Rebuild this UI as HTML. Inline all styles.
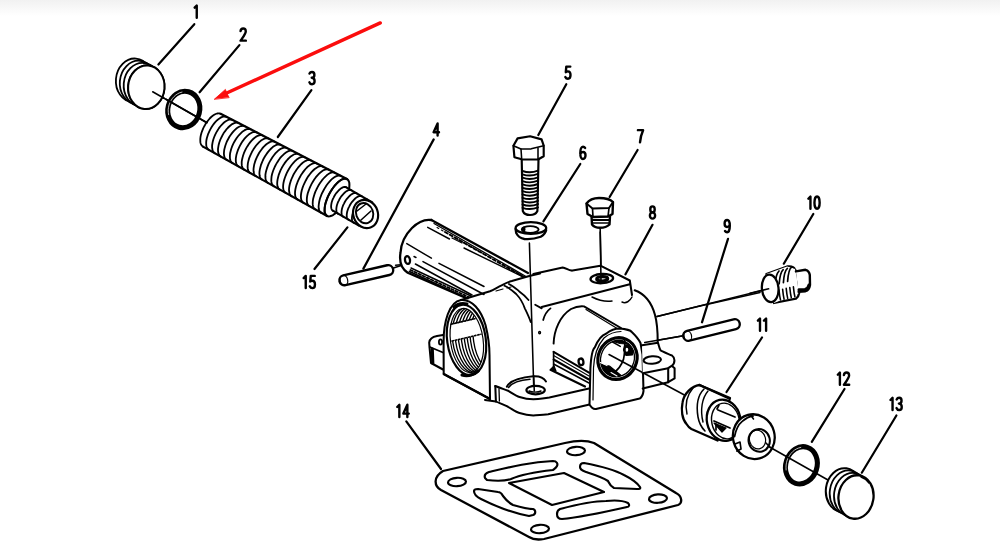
<!DOCTYPE html>
<html><head><meta charset="utf-8"><style>
html,body{margin:0;padding:0;background:#fff;}
body{width:1000px;height:550px;overflow:hidden;position:relative;}
.top{position:absolute;left:0;top:0;width:1000px;height:16px;background:linear-gradient(#f1f1f1,#fff);}
svg{position:absolute;left:0;top:0;}
</style></head><body><div class="top"></div>
<svg width="1000" height="550" viewBox="0 0 1000 550" stroke-linecap="round" stroke-linejoin="round">
<path transform="translate(194.65 5.50)" d="M0,2.2 L2.1,0 L2.1,12.2" fill="none" stroke="#000" stroke-width="2.4" stroke-linecap="round" stroke-linejoin="round"/>
<path transform="translate(240.55 28.45)" d="M0,2.6 C0.2,0.9 1.2,0 2.6,0 C4.2,0 5.2,1.2 5.2,3 C5.2,5.2 3.2,7.6 0,12.2 L5.3,12.2" fill="none" stroke="#000" stroke-width="2.4" stroke-linecap="round" stroke-linejoin="round"/>
<path transform="translate(309.40 72.00)" d="M0.1,1.6 C0.6,0.5 1.5,0 2.6,0 C4.1,0 5,1.2 5,2.9 C5,4.8 3.9,5.8 2.3,5.8 C4,5.9 5.2,7.3 5.2,9.1 C5.2,11 4,12.2 2.6,12.2 C1.4,12.2 0.4,11.5 0,10.3" fill="none" stroke="#000" stroke-width="2.4" stroke-linecap="round" stroke-linejoin="round"/>
<path transform="translate(433.60 123.40)" d="M4,12.2 L4,0 L0,8.8 L5.4,8.8" fill="none" stroke="#000" stroke-width="2.4" stroke-linecap="round" stroke-linejoin="round"/>
<path transform="translate(565.30 66.60)" d="M5,0 L1,0 L0.5,5.6 C1.1,5 1.9,4.8 2.6,4.8 C4.2,4.8 5.2,6.3 5.2,8.5 C5.2,10.8 4.1,12.2 2.6,12.2 C1.4,12.2 0.5,11.5 0,10.4" fill="none" stroke="#000" stroke-width="2.4" stroke-linecap="round" stroke-linejoin="round"/>
<path transform="translate(580.30 146.75)" d="M4.8,1.2 C4.3,0.4 3.5,0 2.7,0 C1,0 0,2.6 0,6.5 C0,10.2 1,12.2 2.6,12.2 C4.2,12.2 5.2,10.8 5.2,8.6 C5.2,6.5 4.2,5.2 2.7,5.2 C1.5,5.2 0.5,6 0,7.3" fill="none" stroke="#000" stroke-width="2.4" stroke-linecap="round" stroke-linejoin="round"/>
<path transform="translate(637.90 130.15)" d="M0,0 L5.2,0 C3.6,3.5 2.5,7.5 2.1,12.2" fill="none" stroke="#000" stroke-width="2.4" stroke-linecap="round" stroke-linejoin="round"/>
<ellipse cx="652.50" cy="209.40" rx="2.2" ry="3.0" fill="none" stroke="#000" stroke-width="2.4"/>
<ellipse cx="652.50" cy="215.40" rx="2.6" ry="3.2" fill="none" stroke="#000" stroke-width="2.4"/>
<path transform="translate(724.60 220.00)" d="M0.4,11 C0.9,11.8 1.7,12.2 2.5,12.2 C4.2,12.2 5.2,9.6 5.2,5.7 C5.2,2 4.2,0 2.6,0 C1,0 0,1.4 0,3.6 C0,5.7 1,7 2.5,7 C3.7,7 4.7,6.2 5.2,4.9" fill="none" stroke="#000" stroke-width="2.4" stroke-linecap="round" stroke-linejoin="round"/>
<path transform="translate(808.35 196.55)" d="M0,2.2 L2.1,0 L2.1,12.2" fill="none" stroke="#000" stroke-width="2.4" stroke-linecap="round" stroke-linejoin="round"/>
<ellipse cx="817.05" cy="202.65" rx="2.6" ry="6.1" fill="none" stroke="#000" stroke-width="2.4"/>
<path transform="translate(757.90 318.50)" d="M0,2.2 L2.1,0 L2.1,12.2" fill="none" stroke="#000" stroke-width="2.4" stroke-linecap="round" stroke-linejoin="round"/>
<path transform="translate(764.00 318.50)" d="M0,2.2 L2.1,0 L2.1,12.2" fill="none" stroke="#000" stroke-width="2.4" stroke-linecap="round" stroke-linejoin="round"/>
<path transform="translate(837.80 372.55)" d="M0,2.2 L2.1,0 L2.1,12.2" fill="none" stroke="#000" stroke-width="2.4" stroke-linecap="round" stroke-linejoin="round"/>
<path transform="translate(843.90 372.55)" d="M0,2.6 C0.2,0.9 1.2,0 2.6,0 C4.2,0 5.2,1.2 5.2,3 C5.2,5.2 3.2,7.6 0,12.2 L5.3,12.2" fill="none" stroke="#000" stroke-width="2.4" stroke-linecap="round" stroke-linejoin="round"/>
<path transform="translate(890.45 397.80)" d="M0,2.2 L2.1,0 L2.1,12.2" fill="none" stroke="#000" stroke-width="2.4" stroke-linecap="round" stroke-linejoin="round"/>
<path transform="translate(896.55 397.80)" d="M0.1,1.6 C0.6,0.5 1.5,0 2.6,0 C4.1,0 5,1.2 5,2.9 C5,4.8 3.9,5.8 2.3,5.8 C4,5.9 5.2,7.3 5.2,9.1 C5.2,11 4,12.2 2.6,12.2 C1.4,12.2 0.4,11.5 0,10.3" fill="none" stroke="#000" stroke-width="2.4" stroke-linecap="round" stroke-linejoin="round"/>
<path transform="translate(397.25 404.80)" d="M0,2.2 L2.1,0 L2.1,12.2" fill="none" stroke="#000" stroke-width="2.4" stroke-linecap="round" stroke-linejoin="round"/>
<path transform="translate(403.35 404.80)" d="M4,12.2 L4,0 L0,8.8 L5.4,8.8" fill="none" stroke="#000" stroke-width="2.4" stroke-linecap="round" stroke-linejoin="round"/>
<path transform="translate(303.65 275.90)" d="M0,2.2 L2.1,0 L2.1,12.2" fill="none" stroke="#000" stroke-width="2.4" stroke-linecap="round" stroke-linejoin="round"/>
<path transform="translate(309.75 275.90)" d="M5,0 L1,0 L0.5,5.6 C1.1,5 1.9,4.8 2.6,4.8 C4.2,4.8 5.2,6.3 5.2,8.5 C5.2,10.8 4.1,12.2 2.6,12.2 C1.4,12.2 0.5,11.5 0,10.4" fill="none" stroke="#000" stroke-width="2.4" stroke-linecap="round" stroke-linejoin="round"/>
<path d="M194.3,24.2 L158.4,64.5" fill="none" stroke="#000" stroke-width="2.22" />
<path d="M239.4,45.1 L199.6,92.2" fill="none" stroke="#000" stroke-width="2.22" />
<path d="M311.4,90.2 L277.8,137.0" fill="none" stroke="#000" stroke-width="2.22" />
<path d="M433.7,139.4 L363.4,268.6" fill="none" stroke="#000" stroke-width="2.22" />
<path d="M347.4,227.4 L314.5,269.0" fill="none" stroke="#000" stroke-width="2.22" />
<path d="M566.3,84.2 L538.3,135.0" fill="none" stroke="#000" stroke-width="2.22" />
<path d="M580.3,164.0 L543.4,221.3" fill="none" stroke="#000" stroke-width="2.22" />
<path d="M637.6,150.0 L609.6,197.0" fill="none" stroke="#000" stroke-width="2.22" />
<path d="M652.5,224.8 L625.5,274.3" fill="none" stroke="#000" stroke-width="2.22" />
<path d="M728.0,238.8 L702.0,322.3" fill="none" stroke="#000" stroke-width="2.22" />
<path d="M813.3,214.0 L783.8,263.7" fill="none" stroke="#000" stroke-width="2.22" />
<path d="M762.0,337.5 L726.5,392.0" fill="none" stroke="#000" stroke-width="2.22" />
<path d="M844.5,389.0 L811.8,441.8" fill="none" stroke="#000" stroke-width="2.22" />
<path d="M896.4,415.5 L861.8,472.7" fill="none" stroke="#000" stroke-width="2.22" />
<path d="M406.3,421.3 L441.0,469.0" fill="none" stroke="#000" stroke-width="2.22" />
<path d="M152.7,91.8 L207.0,122.7" fill="none" stroke="#000" stroke-width="1.56" />
<path d="M657.0,316.5 L768.6,288.8" fill="none" stroke="#000" stroke-width="1.56" />
<path d="M644.7,342.4 L682.0,336.0" fill="none" stroke="#000" stroke-width="1.56" />
<path d="M390.5,269.0 L401.0,265.4" fill="none" stroke="#000" stroke-width="1.56" />
<path d="M380.3,22.9 L224,94.3" stroke="#fb0d0d" stroke-width="3.4" fill="none"/>
<path d="M214.5,99.1 L225.4,89.4 L227,93.5 L229,97.3 Z" fill="#fb0d0d" stroke="#fb0d0d" stroke-width="0.8" stroke-linejoin="miter"/>
<ellipse cx="134.1" cy="80.3" rx="18.2" ry="21.8" transform="rotate(5 134.1 80.3)" fill="#fff" stroke="#000" stroke-width="1.7999999999999998"/>
<ellipse cx="138.0" cy="82.5" rx="18.2" ry="21.8" transform="rotate(5 138.0 82.5)" fill="#fff" stroke="#000" stroke-width="1.7999999999999998"/>
<ellipse cx="141.9" cy="84.7" rx="18.2" ry="21.8" transform="rotate(5 141.9 84.7)" fill="#fff" stroke="#000" stroke-width="1.7999999999999998"/>
<ellipse cx="146.3" cy="87.2" rx="18.2" ry="21.8" transform="rotate(5 146.3 87.2)" fill="#fff" stroke="#000" stroke-width="1.7999999999999998"/>
<ellipse cx="146.3" cy="87.2" rx="18.2" ry="21.8" transform="rotate(5 146.3 87.2)" fill="#fff" stroke="#000" stroke-width="2.04"/>
<path d="M152.7,91.8 L164.0,98.2" fill="none" stroke="#000" stroke-width="1.56" />
<ellipse cx="183.8" cy="109.5" rx="15.9" ry="18.4" transform="rotate(15 183.8 109.5)" fill="none" stroke="#000" stroke-width="5.04"/>
<path d="M168.6,114.7 L168.3,112.3 L168.2,109.8 L168.5,107.3 L169.1,104.9 L170.0,102.6 L171.1,100.4 L172.5,98.3 L174.1,96.5 L175.8,95.0 L177.8,93.7 L179.8,92.7 L182.0,92.1" fill="none" stroke="#fff" stroke-width="0.72" />
<path d="M166.0,99.3 L207.0,122.7" fill="none" stroke="#000" stroke-width="1.56" />
<path d="M220.6,113.8 L346.9,179.0 L327.1,216.0 L203.0,146.6 Z" fill="#fff" stroke="none"/>
<path d="M220.6,113.8 L346.9,179.0" fill="none" stroke="#000" stroke-width="2.16" />
<path d="M203.0,146.6 L327.1,216.0" fill="none" stroke="#000" stroke-width="2.16" />
<path d="M220.6,113.8 L219.6,113.4 L218.4,113.3 L217.1,113.5 L215.7,114.0 L214.2,114.8 L212.7,115.8 L211.2,117.0 L209.7,118.5 L208.3,120.2 L206.8,122.1 L205.5,124.1 L204.3,126.2 L203.2,128.3 L202.3,130.6 L201.5,132.8 L200.9,134.9 L200.5,137.0 L200.3,138.9 L200.3,140.7 L200.4,142.4 L200.8,143.8 L201.4,145.0 L202.1,145.9 L203.0,146.6" fill="none" stroke="#000" stroke-width="1.7999999999999998" />
<path d="M226.6,116.9 L225.6,116.5 L224.4,116.4 L223.1,116.6 L221.7,117.1 L220.2,117.9 L218.7,118.9 L217.2,120.2 L215.7,121.7 L214.2,123.4 L212.8,125.3 L211.5,127.3 L210.3,129.4 L209.2,131.6 L208.2,133.8 L207.5,136.0 L206.8,138.2 L206.4,140.2 L206.2,142.2 L206.2,144.0 L206.3,145.7 L206.7,147.1 L207.3,148.3 L208.0,149.2 L208.9,149.9" fill="none" stroke="#000" stroke-width="1.7999999999999998" />
<path d="M232.6,120.0 L231.6,119.6 L230.4,119.5 L229.1,119.7 L227.7,120.2 L226.2,121.0 L224.7,122.0 L223.2,123.3 L221.7,124.8 L220.2,126.5 L218.8,128.4 L217.5,130.5 L216.2,132.6 L215.1,134.8 L214.2,137.0 L213.4,139.2 L212.8,141.4 L212.4,143.5 L212.1,145.5 L212.1,147.3 L212.3,149.0 L212.6,150.4 L213.2,151.6 L213.9,152.5 L214.8,153.2" fill="none" stroke="#000" stroke-width="1.7999999999999998" />
<path d="M238.7,123.1 L237.6,122.7 L236.4,122.7 L235.1,122.9 L233.7,123.4 L232.2,124.1 L230.7,125.2 L229.2,126.5 L227.7,128.0 L226.2,129.7 L224.8,131.6 L223.4,133.6 L222.2,135.8 L221.1,138.0 L220.1,140.2 L219.3,142.5 L218.7,144.7 L218.3,146.8 L218.0,148.8 L218.0,150.6 L218.2,152.3 L218.5,153.7 L219.1,154.9 L219.8,155.8 L220.7,156.5" fill="none" stroke="#000" stroke-width="1.7999999999999998" />
<path d="M244.7,126.2 L243.6,125.9 L242.4,125.8 L241.1,126.0 L239.7,126.5 L238.2,127.3 L236.7,128.3 L235.2,129.6 L233.7,131.1 L232.2,132.9 L230.8,134.8 L229.4,136.8 L228.2,139.0 L227.0,141.2 L226.1,143.5 L225.3,145.7 L224.7,147.9 L224.2,150.0 L224.0,152.0 L223.9,153.9 L224.1,155.5 L224.4,157.0 L225.0,158.2 L225.7,159.1 L226.6,159.8" fill="none" stroke="#000" stroke-width="1.7999999999999998" />
<path d="M250.7,129.3 L249.6,129.0 L248.4,128.9 L247.1,129.1 L245.7,129.6 L244.3,130.4 L242.7,131.4 L241.2,132.8 L239.7,134.3 L238.2,136.0 L236.7,138.0 L235.4,140.0 L234.1,142.2 L233.0,144.4 L232.0,146.7 L231.2,149.0 L230.6,151.2 L230.1,153.3 L229.9,155.3 L229.9,157.2 L230.0,158.8 L230.4,160.3 L230.9,161.5 L231.6,162.4 L232.5,163.1" fill="none" stroke="#000" stroke-width="1.7999999999999998" />
<path d="M256.7,132.4 L255.6,132.1 L254.5,132.0 L253.1,132.2 L251.7,132.7 L250.3,133.5 L248.7,134.6 L247.2,135.9 L245.7,137.4 L244.1,139.2 L242.7,141.1 L241.3,143.2 L240.1,145.4 L239.0,147.7 L238.0,149.9 L237.2,152.2 L236.5,154.4 L236.1,156.6 L235.8,158.6 L235.8,160.5 L235.9,162.1 L236.3,163.6 L236.8,164.8 L237.5,165.7 L238.4,166.4" fill="none" stroke="#000" stroke-width="1.7999999999999998" />
<path d="M262.7,135.5 L261.7,135.2 L260.5,135.1 L259.2,135.3 L257.7,135.8 L256.3,136.6 L254.7,137.7 L253.2,139.0 L251.6,140.6 L250.1,142.4 L248.7,144.3 L247.3,146.4 L246.0,148.6 L244.9,150.9 L243.9,153.2 L243.1,155.5 L242.5,157.7 L242.0,159.8 L241.7,161.9 L241.7,163.7 L241.8,165.4 L242.2,166.9 L242.7,168.1 L243.4,169.0 L244.3,169.7" fill="none" stroke="#000" stroke-width="1.7999999999999998" />
<path d="M268.7,138.6 L267.7,138.3 L266.5,138.2 L265.2,138.4 L263.8,138.9 L262.3,139.8 L260.7,140.8 L259.2,142.2 L257.6,143.8 L256.1,145.5 L254.7,147.5 L253.3,149.6 L252.0,151.8 L250.9,154.1 L249.9,156.4 L249.0,158.7 L248.4,160.9 L247.9,163.1 L247.7,165.1 L247.6,167.0 L247.8,168.7 L248.1,170.2 L248.6,171.4 L249.4,172.4 L250.3,173.0" fill="none" stroke="#000" stroke-width="1.7999999999999998" />
<path d="M274.8,141.8 L273.7,141.4 L272.5,141.3 L271.2,141.5 L269.8,142.1 L268.3,142.9 L266.7,144.0 L265.2,145.3 L263.6,146.9 L262.1,148.7 L260.6,150.7 L259.2,152.8 L258.0,155.0 L256.8,157.3 L255.8,159.6 L255.0,161.9 L254.3,164.2 L253.9,166.4 L253.6,168.4 L253.5,170.3 L253.7,172.0 L254.0,173.5 L254.5,174.7 L255.3,175.7 L256.2,176.3" fill="none" stroke="#000" stroke-width="1.7999999999999998" />
<path d="M280.8,144.9 L279.7,144.5 L278.5,144.4 L277.2,144.6 L275.8,145.2 L274.3,146.0 L272.7,147.1 L271.2,148.5 L269.6,150.1 L268.1,151.9 L266.6,153.9 L265.2,156.0 L263.9,158.2 L262.8,160.5 L261.8,162.9 L260.9,165.2 L260.3,167.5 L259.8,169.6 L259.5,171.7 L259.4,173.6 L259.6,175.3 L259.9,176.8 L260.5,178.0 L261.2,179.0 L262.1,179.6" fill="none" stroke="#000" stroke-width="1.7999999999999998" />
<path d="M286.8,148.0 L285.7,147.6 L284.5,147.5 L283.2,147.8 L281.8,148.3 L280.3,149.1 L278.7,150.2 L277.2,151.6 L275.6,153.2 L274.1,155.0 L272.6,157.0 L271.2,159.2 L269.9,161.4 L268.7,163.7 L267.7,166.1 L266.9,168.4 L266.2,170.7 L265.7,172.9 L265.4,175.0 L265.4,176.9 L265.5,178.6 L265.8,180.1 L266.4,181.3 L267.1,182.3 L268.0,182.9" fill="none" stroke="#000" stroke-width="1.7999999999999998" />
<path d="M292.8,151.1 L291.7,150.7 L290.5,150.6 L289.2,150.9 L287.8,151.4 L286.3,152.3 L284.7,153.4 L283.2,154.8 L281.6,156.4 L280.0,158.2 L278.6,160.2 L277.2,162.4 L275.9,164.6 L274.7,167.0 L273.7,169.3 L272.8,171.7 L272.1,174.0 L271.6,176.2 L271.4,178.3 L271.3,180.2 L271.4,181.9 L271.7,183.4 L272.3,184.6 L273.0,185.6 L273.9,186.2" fill="none" stroke="#000" stroke-width="1.7999999999999998" />
<path d="M298.8,154.2 L297.8,153.8 L296.6,153.7 L295.2,154.0 L293.8,154.5 L292.3,155.4 L290.7,156.5 L289.2,157.9 L287.6,159.5 L286.0,161.4 L284.5,163.4 L283.1,165.6 L281.8,167.8 L280.6,170.2 L279.6,172.6 L278.7,174.9 L278.1,177.2 L277.6,179.4 L277.3,181.5 L277.2,183.4 L277.3,185.2 L277.7,186.7 L278.2,187.9 L278.9,188.9 L279.8,189.6" fill="none" stroke="#000" stroke-width="1.7999999999999998" />
<path d="M304.8,157.3 L303.8,156.9 L302.6,156.8 L301.2,157.1 L299.8,157.6 L298.3,158.5 L296.7,159.6 L295.1,161.0 L293.6,162.7 L292.0,164.5 L290.5,166.6 L289.1,168.8 L287.8,171.0 L286.6,173.4 L285.6,175.8 L284.7,178.2 L284.0,180.5 L283.5,182.7 L283.2,184.8 L283.1,186.7 L283.2,188.5 L283.6,190.0 L284.1,191.2 L284.8,192.2 L285.7,192.9" fill="none" stroke="#000" stroke-width="1.7999999999999998" />
<path d="M310.8,160.4 L309.8,160.0 L308.6,159.9 L307.2,160.2 L305.8,160.8 L304.3,161.6 L302.7,162.8 L301.1,164.2 L299.6,165.8 L298.0,167.7 L296.5,169.8 L295.1,171.9 L293.7,174.2 L292.6,176.6 L291.5,179.0 L290.6,181.4 L289.9,183.7 L289.4,186.0 L289.1,188.1 L289.0,190.0 L289.2,191.8 L289.5,193.3 L290.0,194.5 L290.7,195.5 L291.6,196.2" fill="none" stroke="#000" stroke-width="1.7999999999999998" />
<path d="M316.9,163.5 L315.8,163.1 L314.6,163.1 L313.3,163.3 L311.8,163.9 L310.3,164.8 L308.7,165.9 L307.1,167.3 L305.5,169.0 L304.0,170.9 L302.5,172.9 L301.0,175.1 L299.7,177.5 L298.5,179.8 L297.5,182.2 L296.6,184.6 L295.9,187.0 L295.4,189.2 L295.1,191.4 L295.0,193.3 L295.1,195.0 L295.4,196.6 L295.9,197.8 L296.6,198.8 L297.5,199.5" fill="none" stroke="#000" stroke-width="1.7999999999999998" />
<path d="M322.9,166.6 L321.8,166.2 L320.6,166.2 L319.3,166.4 L317.8,167.0 L316.3,167.9 L314.7,169.0 L313.1,170.5 L311.5,172.1 L310.0,174.0 L308.4,176.1 L307.0,178.3 L305.7,180.7 L304.5,183.1 L303.4,185.5 L302.5,187.9 L301.8,190.2 L301.3,192.5 L301.0,194.6 L300.9,196.6 L301.0,198.3 L301.3,199.9 L301.8,201.1 L302.5,202.1 L303.4,202.8" fill="none" stroke="#000" stroke-width="1.7999999999999998" />
<path d="M328.9,169.7 L327.8,169.3 L326.6,169.3 L325.3,169.5 L323.8,170.1 L322.3,171.0 L320.7,172.2 L319.1,173.6 L317.5,175.3 L315.9,177.2 L314.4,179.3 L313.0,181.5 L311.6,183.9 L310.4,186.3 L309.4,188.7 L308.5,191.1 L307.7,193.5 L307.2,195.8 L306.9,197.9 L306.8,199.9 L306.9,201.6 L307.2,203.2 L307.7,204.4 L308.4,205.4 L309.3,206.1" fill="none" stroke="#000" stroke-width="1.7999999999999998" />
<path d="M334.9,172.8 L333.8,172.4 L332.6,172.4 L331.3,172.6 L329.8,173.2 L328.3,174.1 L326.7,175.3 L325.1,176.8 L323.5,178.5 L321.9,180.4 L320.4,182.5 L318.9,184.7 L317.6,187.1 L316.4,189.5 L315.3,191.9 L314.4,194.4 L313.7,196.8 L313.1,199.0 L312.8,201.2 L312.7,203.2 L312.8,204.9 L313.1,206.5 L313.6,207.7 L314.3,208.7 L315.2,209.4" fill="none" stroke="#000" stroke-width="1.7999999999999998" />
<path d="M340.9,175.9 L339.9,175.5 L338.7,175.5 L337.3,175.8 L335.9,176.4 L334.3,177.3 L332.7,178.4 L331.1,179.9 L329.5,181.6 L327.9,183.5 L326.4,185.6 L324.9,187.9 L323.6,190.3 L322.3,192.7 L321.2,195.2 L320.3,197.6 L319.6,200.0 L319.1,202.3 L318.8,204.5 L318.6,206.4 L318.7,208.2 L319.0,209.8 L319.5,211.0 L320.3,212.0 L321.1,212.7" fill="none" stroke="#000" stroke-width="1.7999999999999998" />
<path d="M346.9,179.0 L345.9,178.6 L344.7,178.6 L343.3,178.9 L341.9,179.5 L340.3,180.4 L338.7,181.6 L337.1,183.0 L335.5,184.8 L333.9,186.7 L332.3,188.8 L330.9,191.1 L329.5,193.5 L328.3,195.9 L327.2,198.4 L326.3,200.9 L325.5,203.3 L325.0,205.6 L324.7,207.7 L324.6,209.7 L324.6,211.5 L324.9,213.0 L325.5,214.3 L326.2,215.3 L327.1,216.0" fill="none" stroke="#000" stroke-width="1.7999999999999998" />
<path d="M327.1,216.0 L328.4,216.4 L329.9,216.3 L331.5,215.8 L333.4,214.8 L335.3,213.4 L337.2,211.6 L339.2,209.5 L341.0,207.0 L342.8,204.4 L344.5,201.5 L346.0,198.6 L347.2,195.6 L348.2,192.7 L348.9,189.9 L349.3,187.3 L349.4,184.9 L349.3,182.8 L348.8,181.2 L348.0,179.9 L346.9,179.0 L345.6,178.6 L344.1,178.7 L342.5,179.2 L340.6,180.2 L338.7,181.6 L336.8,183.4 L334.8,185.5 L333.0,188.0 L331.2,190.6 L329.5,193.5 L328.0,196.4 L326.8,199.4 L325.8,202.3 L325.1,205.1 L324.7,207.7 L324.6,210.1 L324.7,212.2 L325.2,213.8 L326.0,215.1 L327.1,216.0" fill="none" stroke="#000" stroke-width="2.04" />
<path d="M346.3,187.3 L372.3,202.3 L358.9,225.7 L332.9,210.7 Z" fill="#fff" stroke="none"/>
<path d="M346.3,187.3 L372.3,202.3" fill="none" stroke="#000" stroke-width="2.04" />
<path d="M332.9,210.7 L358.9,225.7" fill="none" stroke="#000" stroke-width="2.04" />
<path d="M346.3,187.3 L345.6,187.0 L344.8,186.9 L343.8,187.0 L342.8,187.4 L341.8,187.9 L340.7,188.6 L339.6,189.5 L338.5,190.6 L337.4,191.8 L336.3,193.1 L335.3,194.5 L334.4,196.0 L333.6,197.6 L332.8,199.1 L332.2,200.7 L331.7,202.2 L331.4,203.7 L331.2,205.1 L331.1,206.5 L331.2,207.6 L331.4,208.7 L331.7,209.5 L332.2,210.2 L332.9,210.7" fill="none" stroke="#000" stroke-width="1.7999999999999998" />
<path d="M351.5,190.3 L350.8,190.0 L350.0,189.9 L349.0,190.0 L348.0,190.4 L347.0,190.9 L345.9,191.6 L344.8,192.5 L343.7,193.6 L342.6,194.8 L341.5,196.1 L340.5,197.5 L339.6,199.0 L338.8,200.6 L338.0,202.1 L337.4,203.7 L336.9,205.2 L336.6,206.7 L336.4,208.1 L336.3,209.5 L336.4,210.6 L336.6,211.7 L336.9,212.5 L337.4,213.2 L338.1,213.7" fill="none" stroke="#000" stroke-width="1.7999999999999998" />
<path d="M356.7,193.3 L356.0,193.0 L355.2,192.9 L354.2,193.0 L353.2,193.4 L352.2,193.9 L351.1,194.6 L350.0,195.5 L348.9,196.6 L347.8,197.8 L346.7,199.1 L345.7,200.5 L344.8,202.0 L344.0,203.6 L343.2,205.1 L342.6,206.7 L342.1,208.2 L341.8,209.7 L341.6,211.1 L341.5,212.5 L341.6,213.6 L341.8,214.7 L342.1,215.5 L342.6,216.2 L343.3,216.7" fill="none" stroke="#000" stroke-width="1.7999999999999998" />
<path d="M361.9,196.3 L361.2,196.0 L360.4,195.9 L359.4,196.0 L358.4,196.4 L357.4,196.9 L356.3,197.6 L355.2,198.5 L354.1,199.6 L353.0,200.8 L351.9,202.1 L350.9,203.5 L350.0,205.0 L349.2,206.6 L348.4,208.1 L347.8,209.7 L347.3,211.2 L347.0,212.7 L346.8,214.1 L346.7,215.5 L346.8,216.6 L347.0,217.7 L347.3,218.5 L347.8,219.2 L348.5,219.7" fill="none" stroke="#000" stroke-width="1.7999999999999998" />
<path d="M367.1,199.3 L366.4,199.0 L365.6,198.9 L364.6,199.0 L363.6,199.4 L362.6,199.9 L361.5,200.6 L360.4,201.5 L359.3,202.6 L358.2,203.8 L357.1,205.1 L356.1,206.5 L355.2,208.0 L354.4,209.6 L353.6,211.1 L353.0,212.7 L352.5,214.2 L352.2,215.7 L352.0,217.1 L351.9,218.5 L352.0,219.6 L352.2,220.7 L352.5,221.5 L353.0,222.2 L353.7,222.7" fill="none" stroke="#000" stroke-width="1.7999999999999998" />
<ellipse cx="365.6" cy="214.0" rx="12.3" ry="14.3" transform="rotate(-20 365.6 214.0)" fill="#fff" stroke="#000" stroke-width="2.16"/>
<ellipse cx="364.6" cy="213.2" rx="8.5" ry="10.3" transform="rotate(-20 364.6 213.2)" fill="none" stroke="#000" stroke-width="1.92"/>
<path d="M357.0,211.0 L366.0,204.0" fill="none" stroke="#000" stroke-width="1.56" />
<path d="M361.0,220.0 L371.0,211.0" fill="none" stroke="#000" stroke-width="1.56" />
<g transform="rotate(-13 366.3 275.2)"><rect x="338.8" y="270.2" width="55" height="10" rx="5.0" ry="5.0" fill="#fff" stroke="#000" stroke-width="2.4"/><ellipse cx="343.3" cy="275.2" rx="3.8" ry="5.0" fill="none" stroke="#000" stroke-width="1.2"/></g>
<g transform="rotate(-14 711.5 330.0)"><rect x="682.5" y="325.0" width="58" height="10" rx="5.0" ry="5.0" fill="#fff" stroke="#000" stroke-width="2.4"/><ellipse cx="687.0" cy="330.0" rx="3.8" ry="5.0" fill="none" stroke="#000" stroke-width="1.2"/></g>
<path d="M441.3,336.5 L429,339.8 L430.6,362.7 L442,366 L443.7,374 L490.4,402 L495.3,402 L518.2,410.2 L534.6,413.5 L560,408.6 L589.5,404.6 L593.8,406.4 L638.7,396 L642.2,389 L668.2,382.2 L674.6,378.4 L674.6,360.6 L672,355.5 L660.6,350.4 L657.7,342 L657.7,325.5 L654.4,310.7 L644.6,294.4 L634.7,290.3 L629.8,280.5 L600.4,265.7 L572.5,270.6 L562.7,267.4 L545,271 L528,273 L431,220 C415,225 403,238 400.5,252.7 C399,262 402,269 407.7,272.7 L441.8,300 Z" fill="#fff" stroke="none" stroke-width="0.0" />
<path d="M431.4,220 C425,219 418,222 412,228 C405,235 401,244 400.5,252.7 C399,262 402,269 407.7,272.7 L466,298" fill="none" stroke="#000" stroke-width="2.28" />
<path d="M431.4,220 L528,273" fill="none" stroke="#000" stroke-width="2.28" />
<path d="M434,223.5 L526,276.5" fill="none" stroke="#000" stroke-width="1.32" />
<path d="M445,232 L524,277" fill="none" stroke="#000" stroke-width="1.92" stroke-dasharray="3 2.5"/>
<path d="M437,227.5 L525,277" fill="none" stroke="#000" stroke-width="1.08" stroke-dasharray="2 3"/>
<path d="M427.7,227.3 L449.5,239.0" fill="none" stroke="#000" stroke-width="1.44" />
<path d="M406.8,243.6 L431.4,258.2" fill="none" stroke="#000" stroke-width="1.44" />
<path d="M464.0,248.0 L522.0,276.4" fill="none" stroke="#000" stroke-width="1.44" />
<path d="M439.0,263.4 L484.0,286.5" fill="none" stroke="#000" stroke-width="1.56" />
<path d="M452.0,238.0 L462.0,243.0" fill="none" stroke="#000" stroke-width="1.2" />
<path d="M414.0,256.5 L416.0,257.5" fill="none" stroke="#000" stroke-width="1.44" />
<path d="M423.0,261.6 L484.0,294.5" fill="none" stroke="#000" stroke-width="1.56" />
<path d="M415.4,264.0 L472.0,295.0" fill="none" stroke="#000" stroke-width="1.56" />
<path d="M409.5,271.5 L467.7,298.5" fill="none" stroke="#000" stroke-width="1.92" />
<path d="M411.0,268.0 L471.0,296.0" fill="none" stroke="#000" stroke-width="1.44" />
<path d="M410.5,270 L469,297.2" fill="none" stroke="#000" stroke-width="1.7999999999999998" stroke-dasharray="2.5 2"/>
<ellipse cx="407.5" cy="260" rx="2.5" ry="4" transform="rotate(-10 407.5 260)" fill="none" stroke="#000" stroke-width="2.28"/>
<path d="M400.5,264.8 L395.6,265.2" fill="none" stroke="#000" stroke-width="1.56" />
<path d="M533.3,274 L562.7,267.4 C566,268 569,271 572.5,270.6 L600.4,265.7 L629.8,280.5 L630.6,290.3 L535,305.5 Z" fill="#fff" stroke="none" stroke-width="0.0" />
<path d="M533.3,274 L562.7,267.4 C566,268 569,271 572.5,270.6 L600.4,265.7 L629.8,280.5 L632,295" fill="none" stroke="#000" stroke-width="2.04" />
<path d="M629.8,284.3 L541.7,306.9" fill="none" stroke="#000" stroke-width="2.04" />
<ellipse cx="601.8" cy="278.6" rx="11.3" ry="4.6" transform="rotate(-3 601.8 278.6)" fill="#fff" stroke="#000" stroke-width="2.28"/>
<ellipse cx="602.2" cy="278.8" rx="5.5" ry="2.2" transform="rotate(-3 602.2 278.8)" fill="none" stroke="#000" stroke-width="3.12"/>
<path d="M600.2,229.0 L601.0,281.0" fill="none" stroke="#000" stroke-width="1.56" />
<path d="M535.2,304.7 L541.7,308.4" fill="none" stroke="#000" stroke-width="1.7999999999999998" />
<path d="M550.5,308.4 C547,311 544.5,315 543.2,320" fill="none" stroke="#000" stroke-width="1.7999999999999998" />
<path d="M592,297 C598,300 606,302 612,301" fill="none" stroke="#000" stroke-width="1.44" />
<path d="M622,302 C626,304 630,301 632,297" fill="none" stroke="#000" stroke-width="1.44" />
<ellipse cx="539.6" cy="332.6" rx="0.9" ry="1.2" transform="rotate(0 539.6 332.6)" fill="none" stroke="#000" stroke-width="1.44"/>
<path d="M634.7,290.3 C645,294 652,304 655,315 C657,322 657.7,330 657.7,342" fill="none" stroke="#000" stroke-width="2.04" />
<path d="M461,300 L490,291.2 C494,289.5 498,287 501.6,285.4 C505,283.5 508,282 511.8,281 L529.3,275.9 L540,273.6" fill="none" stroke="#000" stroke-width="2.04" />
<path d="M496,291 L503,289 M507,288 L511,287" fill="none" stroke="#000" stroke-width="1.2" />
<path d="M508.9,283.9 C512,286 516,288.5 519,291.2 C523,294 526,297 528.5,300" fill="none" stroke="#000" stroke-width="1.7999999999999998" />
<path d="M504.5,285.8 C509,288 513,291 516.2,294 C520,298 523,303 524.9,308.6 C527,313 529,317 530.7,322" fill="none" stroke="#000" stroke-width="1.7999999999999998" />
<path d="M529.4,243.0 L533.7,386.0" fill="none" stroke="#000" stroke-width="1.56" />
<path d="M553.6,343.6 C554,330 560,316 571,309 C576,306.5 580,306 584,306.4 L621,328" fill="none" stroke="#000" stroke-width="1.92" />
<path d="M586,309.5 L618,329" fill="none" stroke="#000" stroke-width="1.2" />
<path d="M553.6,351.8 L589,372.7 L589,388 L551,370 Z" fill="#fff" stroke="none" stroke-width="0.0" />
<path d="M553.6,351.8 L589.0,372.7" fill="none" stroke="#000" stroke-width="2.04" />
<path d="M553.6,355.5 L589.0,376.0" fill="none" stroke="#000" stroke-width="1.08" />
<path d="M553.6,359.5 L589.0,379.5" fill="none" stroke="#000" stroke-width="2.04" />
<path d="M553.6,364.0 L589.0,383.0" fill="none" stroke="#000" stroke-width="1.44" />
<path d="M551.0,370.0 L585.0,386.5" fill="none" stroke="#000" stroke-width="2.16" />
<path d="M553.6,351.8 L553.6,369.0" fill="none" stroke="#000" stroke-width="1.68" />
<path d="M550,370 L554,366 L556,371 Z" fill="#000" stroke="#000" stroke-width="1.2" />
<ellipse cx="581" cy="361.8" rx="2.4" ry="3.3" transform="rotate(-10 581 361.8)" fill="none" stroke="#000" stroke-width="2.28"/>
<path d="M506.8,386.7 C510,381 520,377.5 533.3,376.3 C539,376 544,378 546,381.5" fill="none" stroke="#000" stroke-width="1.92" />
<path d="M508.5,387.5 C512,383 520,380 530,379.3" fill="none" stroke="#000" stroke-width="1.56" />
<path d="M495.3,386 C500,388 505,389.5 508,390.7 C512,393 516,396 519.5,397 C524,398.5 529,399.3 533.3,399.3 C540,399 545,398.5 549.4,397.6 L589,388.5" fill="none" stroke="#000" stroke-width="2.04" />
<path d="M495.3,386 L495.9,401.5" fill="none" stroke="#000" stroke-width="2.04" />
<path d="M499,389 L499.4,401" fill="none" stroke="#000" stroke-width="1.32" />
<ellipse cx="535.6" cy="390.1" rx="9.2" ry="4.2" transform="rotate(0 535.6 390.1)" fill="#fff" stroke="#000" stroke-width="2.16"/>
<path d="M529,391 C532,392.5 538,392.5 541,391" fill="none" stroke="#000" stroke-width="1.44" />
<path d="M533.7,376.0 L534.3,391.0" fill="none" stroke="#000" stroke-width="1.56" />
<path d="M485,400 L496,401.6 C500,403 504,405 508,406.8 C512,409 516,412 519.5,413 C524,414.5 529,415.4 533.3,415.4 C540,415 544,414.8 548.2,414.3 L589.5,404.6" fill="none" stroke="#000" stroke-width="2.04" />
<path d="M443,335 L437,336 C432,337 429.5,339.5 429.2,342.5 L429.5,347 L431,363 L443,369.5" fill="#fff" stroke="#000" stroke-width="2.04" />
<path d="M429.8,347 L443,352.5" fill="none" stroke="#000" stroke-width="1.7999999999999998" />
<path d="M432.3,349 L432.8,363" fill="none" stroke="#000" stroke-width="3.12" />
<ellipse cx="440.5" cy="342" rx="1.6" ry="2.6" transform="rotate(0 440.5 342)" fill="none" stroke="#000" stroke-width="1.7999999999999998"/>
<path d="M443.7,374 L443.6,342 C443.5,322 449,302 461,300 C472,299 481,310 485.5,325 C488,335 489.5,345 489.5,355 L490,399 Z" fill="#fff" stroke="#000" stroke-width="2.04" />
<path d="M490,399 L443.7,374" fill="none" stroke="#000" stroke-width="2.04" />
<ellipse cx="466.5" cy="340" rx="19.3" ry="35.5" transform="rotate(-8 466.5 340)" fill="#fff" stroke="#000" stroke-width="2.16"/>
<clipPath id="boreL"><ellipse cx="466.8" cy="340.5" rx="16.5" ry="32.5" transform="rotate(-8 466.8 340.5)"/></clipPath>
<clipPath id="bandU"><path d="M440,290 L495,290 L495,314.8 L440,327.6 Z"/></clipPath>
<clipPath id="bandD"><path d="M440,344 L495,331.3 L495,385 L440,385 Z"/></clipPath>
<g clip-path="url(#boreL)"><g clip-path="url(#bandU)">
<ellipse cx="470.5" cy="341" rx="18" ry="34" transform="rotate(-8 470.5 341)" fill="none" stroke="#000" stroke-width="1.38"/>
<ellipse cx="473.5" cy="341" rx="18" ry="34" transform="rotate(-8 473.5 341)" fill="none" stroke="#000" stroke-width="1.38"/>
<ellipse cx="476.5" cy="341" rx="18" ry="34" transform="rotate(-8 476.5 341)" fill="none" stroke="#000" stroke-width="1.38"/>
<ellipse cx="479.5" cy="341" rx="18" ry="34" transform="rotate(-8 479.5 341)" fill="none" stroke="#000" stroke-width="1.38"/>
<ellipse cx="482.5" cy="341" rx="18" ry="34" transform="rotate(-8 482.5 341)" fill="none" stroke="#000" stroke-width="1.38"/>
<ellipse cx="485.5" cy="341" rx="18" ry="34" transform="rotate(-8 485.5 341)" fill="none" stroke="#000" stroke-width="1.38"/>
<ellipse cx="488.5" cy="341" rx="18" ry="34" transform="rotate(-8 488.5 341)" fill="none" stroke="#000" stroke-width="1.38"/>
</g><g clip-path="url(#bandD)">
<ellipse cx="470.5" cy="339" rx="18" ry="34" transform="rotate(-8 470.5 339)" fill="none" stroke="#000" stroke-width="1.38"/>
<ellipse cx="473.5" cy="339" rx="18" ry="34" transform="rotate(-8 473.5 339)" fill="none" stroke="#000" stroke-width="1.38"/>
<ellipse cx="476.5" cy="339" rx="18" ry="34" transform="rotate(-8 476.5 339)" fill="none" stroke="#000" stroke-width="1.38"/>
<ellipse cx="479.5" cy="339" rx="18" ry="34" transform="rotate(-8 479.5 339)" fill="none" stroke="#000" stroke-width="1.38"/>
<ellipse cx="482.5" cy="339" rx="18" ry="34" transform="rotate(-8 482.5 339)" fill="none" stroke="#000" stroke-width="1.38"/>
<ellipse cx="485.5" cy="339" rx="18" ry="34" transform="rotate(-8 485.5 339)" fill="none" stroke="#000" stroke-width="1.38"/>
<ellipse cx="488.5" cy="339" rx="18" ry="34" transform="rotate(-8 488.5 339)" fill="none" stroke="#000" stroke-width="1.38"/>
<ellipse cx="491.5" cy="339" rx="18" ry="34" transform="rotate(-8 491.5 339)" fill="none" stroke="#000" stroke-width="1.38"/>
</g></g>
<ellipse cx="466.8" cy="340.5" rx="16.3" ry="32.3" transform="rotate(-8 466.8 340.5)" fill="none" stroke="#000" stroke-width="1.2"/>
<path d="M451,324.2 L476,318.4" fill="none" stroke="#000" stroke-width="1.56" stroke-dasharray="1.5 1.8"/>
<path d="M452,341 L481,334.2" fill="none" stroke="#000" stroke-width="1.56" stroke-dasharray="1.5 1.8"/>
<path d="M454,307 C457,304 462,303 467,304" fill="none" stroke="#000" stroke-width="2.88" />
<path d="M462,375 C467,376.5 473,375 478,371" fill="none" stroke="#000" stroke-width="3.12" />
<path d="M589.5,404.6 L590.4,368.4 C591,358 592,350 594.7,347.6 C598,340 602,335 606,333.8 C611,330 615,328.6 619.7,328.6 C626,329 631,331 631.8,332 C636,336 639,340 640.5,343 L642.5,354.5 L643.5,391 C643,395 641.5,397.5 639.7,398.6 L596,409 C593.5,409.5 591.5,408 589.5,404.6 Z" fill="#fff" stroke="#000" stroke-width="2.04" />
<path d="M593,400 L593.5,368 C594,356 597,346 604,338 C610,333 616,331.5 621,331.5" fill="none" stroke="#000" stroke-width="1.2" />
<ellipse cx="617.5" cy="358.6" rx="19.3" ry="21.2" transform="rotate(25 617.5 358.6)" fill="#fff" stroke="#000" stroke-width="3.12"/>
<ellipse cx="617.5" cy="358.6" rx="16.6" ry="18.6" transform="rotate(25 617.5 358.6)" fill="none" stroke="#000" stroke-width="1.32"/>
<clipPath id="boreR"><ellipse cx="617.5" cy="358.6" rx="16.6" ry="18.6" transform="rotate(25 617.5 358.6)"/></clipPath>
<g clip-path="url(#boreR)">
<path d="M605,338 L612.6,337.6 L630,339.8 L629,344.2 L620,343.5 L614.8,342 L608,341 Z" fill="#000" stroke="#000" stroke-width="1.2" />
<path d="M624.6,345.3 L631,344 L634,350 L632.3,355 L626,355.5 L623.5,350 Z" fill="#000" stroke="#000" stroke-width="1.2" />
<path d="M596,360 L598.5,363.8 L609.4,366 L621.4,375.8 L614.8,381 L603.9,380 L596,372 Z" fill="#000" stroke="#000" stroke-width="1.2" />
</g>
<ellipse cx="626.8" cy="349.8" rx="2.3" ry="2.8" transform="rotate(0 626.8 349.8)" fill="#fff" stroke="#000" stroke-width="1.68"/>
<path d="M624.6,338.7 C625,345 625,352 623.5,359.4 C621.5,365 618,370 613.7,372.5" fill="none" stroke="#000" stroke-width="1.68" />
<path d="M612.6,342.0 L620.3,346.4" fill="none" stroke="#000" stroke-width="1.44" />
<path d="M600.5,362.5 L607.0,365.6" fill="none" stroke="#fff" stroke-width="1.08" />
<path d="M611.0,372.5 L617.0,376.0" fill="none" stroke="#fff" stroke-width="1.08" />
<path d="M609.0,354.5 L690.0,398.0" fill="none" stroke="#000" stroke-width="1.56" />
<path d="M642,345.3 L658,342.7 C659,346 659.5,349 660.6,350.4 C664,352 668,354 672,355.5 C675,357.5 675.5,363 672,365.7 L668.2,368.2 L642.7,373.3" fill="#fff" stroke="#000" stroke-width="2.04" />
<path d="M668.2,368.2 L668.2,382.2 L642.7,388.6" fill="none" stroke="#000" stroke-width="2.04" />
<path d="M672,366 L674.6,368.2 L674.6,378.4 L668.2,382.2" fill="none" stroke="#000" stroke-width="2.04" />
<ellipse cx="652.3" cy="360" rx="8.7" ry="3.8" transform="rotate(-4 652.3 360)" fill="#fff" stroke="#000" stroke-width="2.04"/>
<path d="M644.7,342.4 L682.0,336.0" fill="none" stroke="#000" stroke-width="1.56" />
<path d="M657.0,316.5 L700.0,306.0" fill="none" stroke="#000" stroke-width="1.56" />
<path d="M521.7,159.3 L522.8,211 C524,214 527,215 530,215 C533,215 536,214 537.4,211 L538.5,159.3" fill="#fff" stroke="#000" stroke-width="2.16" />
<path d="M522.5,171.0 C527,172.6 533,172.6 538,170.6" fill="none" stroke="#000" stroke-width="1.92" />
<path d="M522.5,174.3 C527,175.9 533,175.9 538,173.9" fill="none" stroke="#000" stroke-width="1.92" />
<path d="M522.5,177.7 C527,179.3 533,179.3 538,177.3" fill="none" stroke="#000" stroke-width="1.92" />
<path d="M522.5,181.1 C527,182.7 533,182.7 538,180.7" fill="none" stroke="#000" stroke-width="1.92" />
<path d="M522.5,184.4 C527,186.0 533,186.0 538,184.0" fill="none" stroke="#000" stroke-width="1.92" />
<path d="M522.5,187.8 C527,189.3 533,189.3 538,187.3" fill="none" stroke="#000" stroke-width="1.92" />
<path d="M522.5,191.1 C527,192.7 533,192.7 538,190.7" fill="none" stroke="#000" stroke-width="1.92" />
<path d="M522.5,194.4 C527,196.0 533,196.0 538,194.0" fill="none" stroke="#000" stroke-width="1.92" />
<path d="M522.5,197.8 C527,199.4 533,199.4 538,197.4" fill="none" stroke="#000" stroke-width="1.92" />
<path d="M522.5,201.2 C527,202.8 533,202.8 538,200.8" fill="none" stroke="#000" stroke-width="1.92" />
<path d="M522.5,204.5 C527,206.1 533,206.1 538,204.1" fill="none" stroke="#000" stroke-width="1.92" />
<path d="M522.5,207.8 C527,209.4 533,209.4 538,207.4" fill="none" stroke="#000" stroke-width="1.92" />
<path d="M513.4,145.7 L517.6,138.4 L530.1,136.3 L541.6,139.4 L543.7,145.7 L543.7,156.2 L538,159.5 L521.7,159.3 L514.4,157.2 Z" fill="#fff" stroke="#000" stroke-width="2.16" />
<path d="M513.4,145.7 L521,149 L531.2,148.8 L543.7,145.7" fill="none" stroke="#000" stroke-width="1.68" />
<path d="M521,149 L521.7,159.3" fill="none" stroke="#000" stroke-width="1.56" />
<path d="M538,148 L538,159.5" fill="none" stroke="#000" stroke-width="1.56" />
<path d="M515.6,229 L516.2,233 C518,236.5 521,238.5 524.4,239 C530,239.5 536,238.5 540.7,236.8 C543,235.5 545.5,233.5 546.2,230" fill="#fff" stroke="#000" stroke-width="2.28" />
<ellipse cx="530.9" cy="228" rx="15.3" ry="5.9" transform="rotate(0 530.9 228)" fill="#fff" stroke="#000" stroke-width="2.28"/>
<ellipse cx="530.2" cy="229.5" rx="8.4" ry="3.4" transform="rotate(0 530.2 229.5)" fill="none" stroke="#000" stroke-width="1.92"/>
<ellipse cx="523.5" cy="229.2" rx="1.0" ry="1.6" transform="rotate(0 523.5 229.2)" fill="#000" stroke="#000" stroke-width="2.16"/>
<path d="M591.5,216 L592,224.5 C594,227 597,227.8 600,227.8 C604,227.8 607.5,226.5 609.5,224.5 L610,216 Z" fill="#fff" stroke="#000" stroke-width="2.4" />
<path d="M592.5,220.0 L609.5,220.0" fill="none" stroke="#000" stroke-width="1.92" />
<path d="M593.0,223.0 L609.0,223.0" fill="none" stroke="#000" stroke-width="1.68" />
<path d="M586.5,203.5 L587.5,214 L593,217 L608,216.5 L612.5,214 L613,202 C610,199 604,198 599,198 C593,198 589,200 586.5,203.5 Z" fill="#fff" stroke="#000" stroke-width="2.4" />
<path d="M586.5,203.5 L592.5,208.5 L609,208 L613,202" fill="none" stroke="#000" stroke-width="1.92" />
<path d="M592.5,208.5 L593.0,217.0" fill="none" stroke="#000" stroke-width="1.68" />
<path d="M609.0,208.0 L608.0,216.5" fill="none" stroke="#000" stroke-width="1.68" />
<path d="M600.2,232.0 L601.0,265.0" fill="none" stroke="#000" stroke-width="1.56" />
<path d="M766.4,274.1 L787.1,266.5 C791,266 794,267 794.8,269.2 C797,272 798,276 798,279 L799.1,293.2 C798.5,297 797,298 795.9,298.7 L774,303" fill="#fff" stroke="#000" stroke-width="2.28" />
<path d="M766.4,274.1 L787.1,266.5 L795,269 L799,293 L774,303 Z" fill="#fff" stroke="none" stroke-width="0.0" />
<path d="M795.9,271.4 L805.5,269.8 C808,270.5 809.5,272.5 809.8,275 L810,285 C809.5,288 808,290.5 805.5,291.2 L798.6,291.8" fill="#fff" stroke="#000" stroke-width="2.4" />
<path d="M799,289.8 L805,289.5 C807,289 808.5,287.5 809,285" fill="none" stroke="#000" stroke-width="3.12" />
<path d="M775.0,285.0 C775.5,278.0 777.0,273.0 779.0,271.0" fill="none" stroke="#000" stroke-width="1.68" />
<path d="M779.2,283.8 C779.7,276.7 781.2,271.5 783.2,269.7" fill="none" stroke="#000" stroke-width="1.68" />
<path d="M783.4,282.6 C783.9,275.4 785.4,270.0 787.4,268.4" fill="none" stroke="#000" stroke-width="1.68" />
<path d="M787.6,281.4 C788.1,274.1 789.6,268.5 791.6,267.1" fill="none" stroke="#000" stroke-width="1.68" />
<path d="M779.0,290.0 C779.5,295.0 780.0,298.0 780.5,300.0" fill="none" stroke="#000" stroke-width="1.56" />
<path d="M782.6,289.2 C783.1,294.2 783.6,297.2 784.1,299.2" fill="none" stroke="#000" stroke-width="1.56" />
<path d="M786.2,288.4 C786.7,293.4 787.2,296.4 787.7,298.4" fill="none" stroke="#000" stroke-width="1.56" />
<path d="M789.8,287.6 C790.3,292.6 790.8,295.6 791.3,297.6" fill="none" stroke="#000" stroke-width="1.56" />
<path d="M793.4,286.8 C793.9,291.8 794.4,294.8 794.9,296.8" fill="none" stroke="#000" stroke-width="1.56" />
<ellipse cx="770.2" cy="288.4" rx="8.3" ry="13.8" transform="rotate(-5 770.2 288.4)" fill="#fff" stroke="#000" stroke-width="2.28"/>
<path d="M750.0,293.2 L768.6,288.8" fill="none" stroke="#000" stroke-width="1.56" />
<path d="M700.0,306.0 L760.0,292.5" fill="none" stroke="#000" stroke-width="1.56" />
<path d="M699.5,385 C692,386 684,393 682.5,402.7 C681,410 682,419 686.5,424 C688,426.5 689.5,428 691.4,429 L717.6,440.5 L730,398 Z" fill="#fff" stroke="#000" stroke-width="2.28" />
<path d="M699.5,385 L728,398" fill="none" stroke="#000" stroke-width="2.28" />
<path d="M693,388 C687,395 685,405 687,414" fill="none" stroke="#000" stroke-width="1.44" />
<path d="M704,389 C698,395 696,405 698,417 C699,423 702,428 705,431" fill="none" stroke="#000" stroke-width="1.56" />
<path d="M708,391 C702,398 700,410 703,422" fill="none" stroke="#000" stroke-width="1.44" />
<ellipse cx="723.7" cy="420.3" rx="16.8" ry="20.8" transform="rotate(-12 723.7 420.3)" fill="#fff" stroke="#000" stroke-width="2.28"/>
<ellipse cx="725.5" cy="421" rx="13.8" ry="18" transform="rotate(-12 725.5 421)" fill="none" stroke="#000" stroke-width="1.44"/>
<path d="M718,410 L735,417 M714,421 L730,428" fill="none" stroke="#000" stroke-width="1.7999999999999998" />
<path d="M717,409 L719,405 M716,424 L716,430" fill="none" stroke="#000" stroke-width="1.68" />
<path d="M714,423 L722,432 L726,428 Z" fill="#000" stroke="#000" stroke-width="1.2" />
<ellipse cx="753.8" cy="436.7" rx="20.8" ry="22.5" transform="rotate(-15 753.8 436.7)" fill="#fff" stroke="#000" stroke-width="2.28"/>
<path d="M734.5,436.7 C736,429 739,424 742.2,421.4 C745.5,418.5 749,416.5 753,416" fill="none" stroke="#000" stroke-width="1.7999999999999998" />
<path d="M751,415.5 L753.5,419" fill="none" stroke="#000" stroke-width="1.56" />
<ellipse cx="759.2" cy="440.4" rx="10.6" ry="11.4" transform="rotate(-15 759.2 440.4)" fill="#fff" stroke="#000" stroke-width="2.04"/>
<ellipse cx="757.5" cy="439.5" rx="8" ry="9.5" transform="rotate(-15 757.5 439.5)" fill="none" stroke="#000" stroke-width="1.2"/>
<path d="M735,444 L740,442 L741,449 L737,451" fill="none" stroke="#000" stroke-width="1.68" />
<path d="M766.0,443.0 L770.0,447.3" fill="none" stroke="#000" stroke-width="1.56" />
<ellipse cx="801.4" cy="465.3" rx="15.6" ry="18.9" transform="rotate(18 801.4 465.3)" fill="none" stroke="#000" stroke-width="5.04"/>
<path d="M786.1,470.0 L786.0,467.5 L786.1,465.0 L786.5,462.5 L787.2,460.0 L788.2,457.7 L789.5,455.5 L791.0,453.4 L792.7,451.6 L794.5,450.1 L796.5,448.9 L798.6,448.0 L800.8,447.4" fill="none" stroke="#fff" stroke-width="0.72" />
<path d="M770.0,447.3 L828.0,480.0" fill="none" stroke="#000" stroke-width="1.56" />
<ellipse cx="843.4" cy="489.9" rx="17.5" ry="21.8" transform="rotate(8 843.4 489.9)" fill="#fff" stroke="#000" stroke-width="2.04"/>
<ellipse cx="847.3" cy="492.1" rx="17.5" ry="21.8" transform="rotate(8 847.3 492.1)" fill="#fff" stroke="#000" stroke-width="1.7999999999999998"/>
<ellipse cx="851.6" cy="494.6" rx="17.5" ry="21.8" transform="rotate(8 851.6 494.6)" fill="#fff" stroke="#000" stroke-width="1.7999999999999998"/>
<ellipse cx="856" cy="497" rx="17.5" ry="21.8" transform="rotate(8 856 497)" fill="#fff" stroke="#000" stroke-width="2.28"/>
<path d="M861,477 C864,478 867,480 869,483" fill="none" stroke="#000" stroke-width="1.44" />
<path d="M443,471 L565,443 C574,441 586,440 594,443 L676,493 C682,496 683,503 678,505 L544,539 C538,540 532,539 529,537 L441,490 C434,486 433,477 443,471 Z" fill="#fff" stroke="#000" stroke-width="2.28" />
<ellipse cx="457" cy="482" rx="9" ry="4.2" transform="rotate(-3 457 482)" fill="none" stroke="#000" stroke-width="2.16"/>
<ellipse cx="576" cy="451" rx="9" ry="4.2" transform="rotate(-3 576 451)" fill="none" stroke="#000" stroke-width="2.16"/>
<ellipse cx="658" cy="498.6" rx="9" ry="4.2" transform="rotate(-3 658 498.6)" fill="none" stroke="#000" stroke-width="2.16"/>
<ellipse cx="540" cy="529" rx="9" ry="4.2" transform="rotate(-3 540 529)" fill="none" stroke="#000" stroke-width="2.16"/>
<path d="M509,483 L564,473 L604,492 L552,505 Z" fill="none" stroke="#000" stroke-width="2.16" stroke-linejoin="round"/>
<path d="M485,478 C484,475 486,473 489,472 C510,467 530,462 553,461 C557,461 558,464 557,466 C556,468 554,469 553,470 C535,472 520,475 511,479 C505,481 495,481 487,480 Z" fill="none" stroke="#000" stroke-width="2.16" />
<path d="M580,467 C580,464 582,463 584,463 C600,466 615,470 624,475 C632,479 638,484 640,487 C641,489 639,489 637,489 L614,488 C610,486 609,483 608,481 C602,477 592,474 586,472 C583,471 580,470 580,467 Z" fill="none" stroke="#000" stroke-width="2.16" />
<path d="M474,491 C474,489 476,489 478,489 L498,492 C500,492 502,494 503,496 C506,500 509,503 513,505 C520,507 528,509 533,509 C536,510 536,514 533,515 L529,516 C512,513 495,506 481,499 C477,497 474,494 474,491 Z" fill="none" stroke="#000" stroke-width="2.16" />
<path d="M560,509 C575,505 592,501 606,501 C615,500 624,501 628,503 C630,505 629,507 627,507 C605,512 583,517 562,519 C558,519 557,517 557,514 C557,512 558,510 560,509 Z" fill="none" stroke="#000" stroke-width="2.16" />
</svg></body></html>
